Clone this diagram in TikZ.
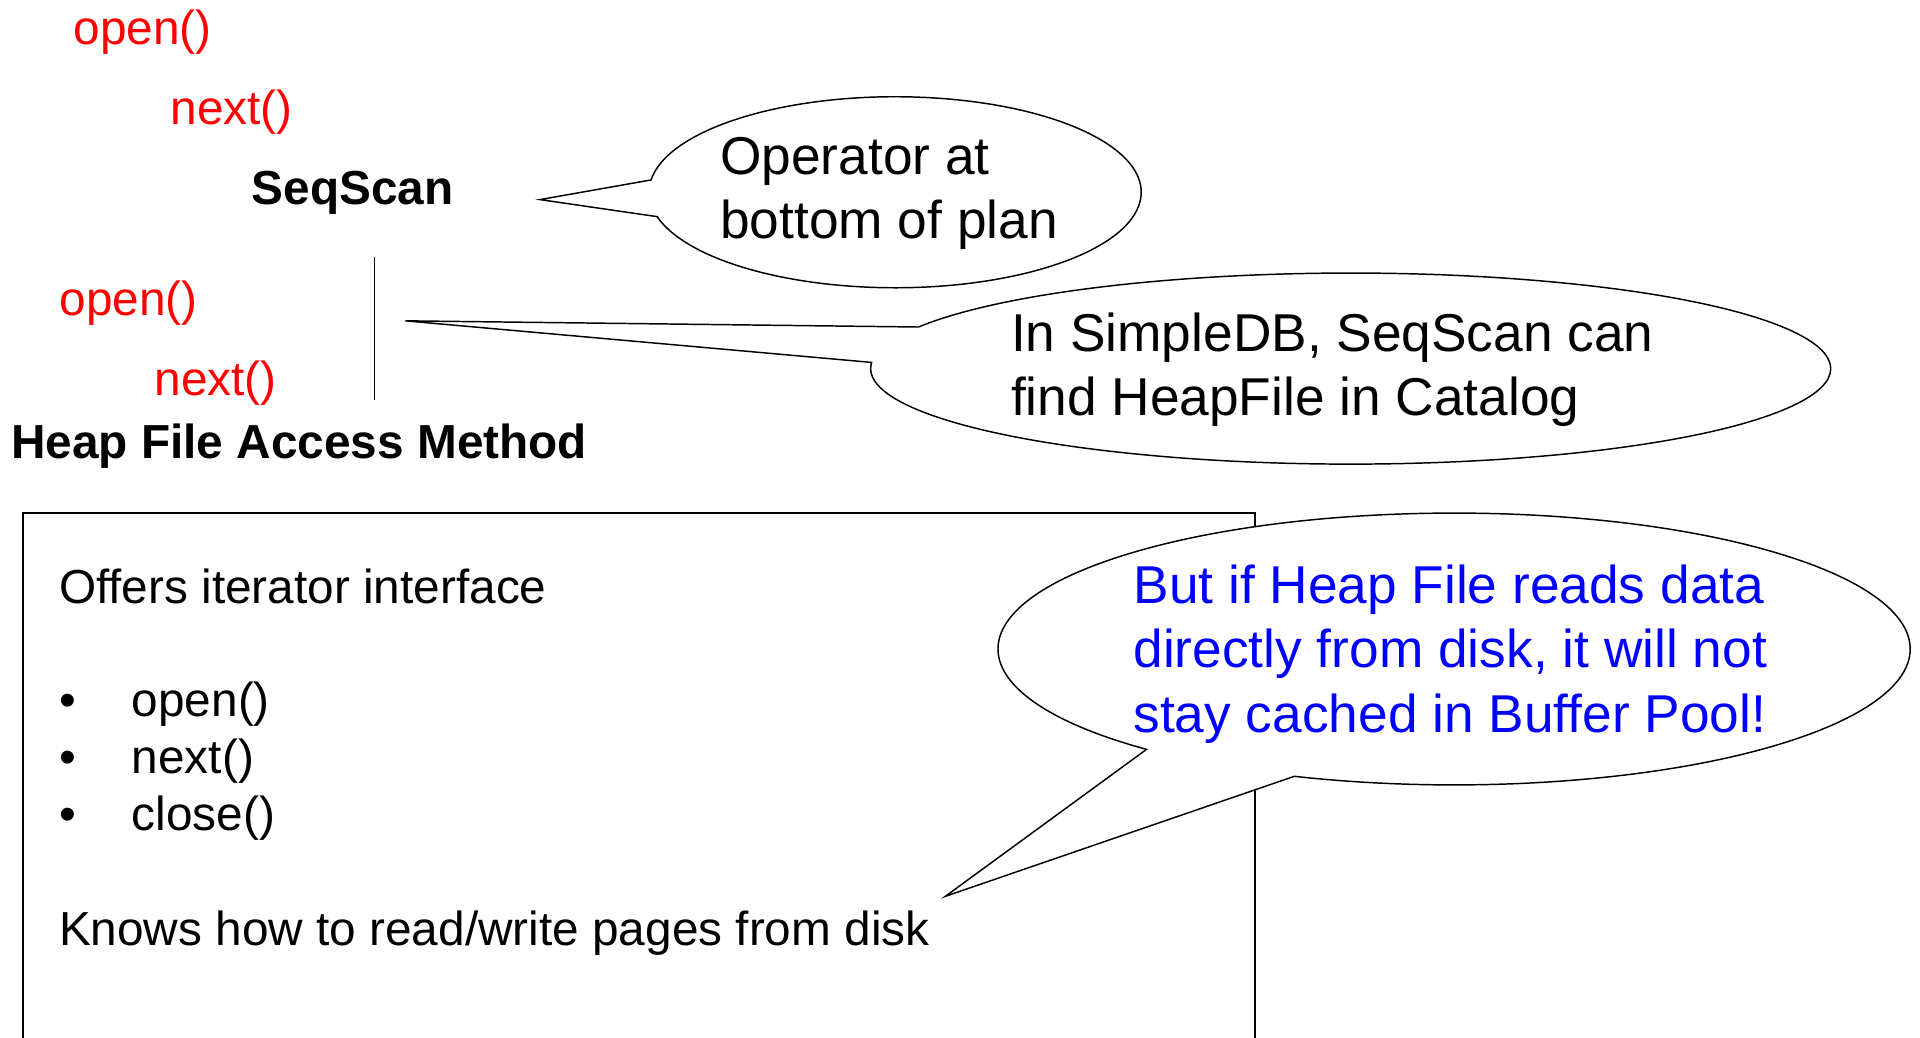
\documentclass[tikz,border=0pt]{standalone}
\usepackage{fontspec}
\setmainfont{Liberation Sans}
\begin{document}
\begin{tikzpicture}
  [x=1pt,y=-1pt,
   call/.style={font=\fontsize{39}{47}\selectfont,text=red,anchor=base west,inner sep=0pt},
   opname/.style={font=\fontsize{39}{47}\selectfont\bfseries,anchor=base west,inner sep=0pt},
   note/.style={font=\fontsize{43.5}{52.5}\selectfont,align=left,anchor=west,inner sep=0pt},
   bubble/.style={draw,fill=white,line width=1.2pt}]
  \useasboundingbox (0,0) rectangle (1568,847);

  \node[call] (open1) at (60,36) {open()};
  \node[call] (next1) at (139,102) {next()};
  \node[opname] (seqscan) at (205.5,167) {SeqScan};
  \node[call] (open2) at (48.5,258) {open()};
  \node[call] (next2) at (126,323) {next()};
  \node[opname] (heapfile) at (9,374.5) {Heap File Access Method};
  \coordinate (lntop) at (306,210);
  \coordinate (lnbot) at (306,327);
  \draw[line width=1.2pt] (lntop) -- (lnbot);

  % access method box
  \draw[line width=1.5pt] (19,419) rectangle (1025,880);
  \node[font=\fontsize{39}{46.5}\selectfont,align=left,anchor=north west,inner sep=0pt] (iface) at (48,464.5)
    {Offers iterator interface\\[46pt]
     \makebox[59.5pt][l]{\textbullet}open()\\
     \makebox[59.5pt][l]{\textbullet}next()\\
     \makebox[59.5pt][l]{\textbullet}close()\\[47.5pt]
     Knows how to read/write pages from disk};

  % callouts
  \coordinate (c1) at (731,157);
  \coordinate (tip1) at (441,163);
  \draw[bubble] ([shift={(187.4:201 and 78)}]c1)
    arc[start angle=187.4,end angle=525.2,x radius=201,y radius=78] -- (tip1) -- cycle;
  \node[note] (optext) at (588,157.9) {Operator at\\bottom of plan};

  \coordinate (c2) at (1103,301);
  \coordinate (tip2) at (331,262);
  \draw[bubble] ([shift={(205.8:392 and 78)}]c2)
    arc[start angle=205.8,end angle=543.7,x radius=392,y radius=78] -- (tip2) -- cycle;
  \node[note] (cattext) at (825.5,302.1) {In SimpleDB, SeqScan can\\find HeapFile in Catalog};

  \coordinate (c3) at (1187.5,530);
  \coordinate (tip3) at (772,732);
  \draw[bubble] ([shift={(132.4:372.5 and 111)}]c3)
    arc[start angle=132.4,end angle=470.5,x radius=372.5,y radius=111] -- (tip3) -- cycle;
  \node[note,text=blue] (pooltext) at (925.5,534.1)
    {But if Heap File reads data\\directly from disk, it will not\\stay cached in Buffer Pool!};
\end{tikzpicture}
\end{document}
